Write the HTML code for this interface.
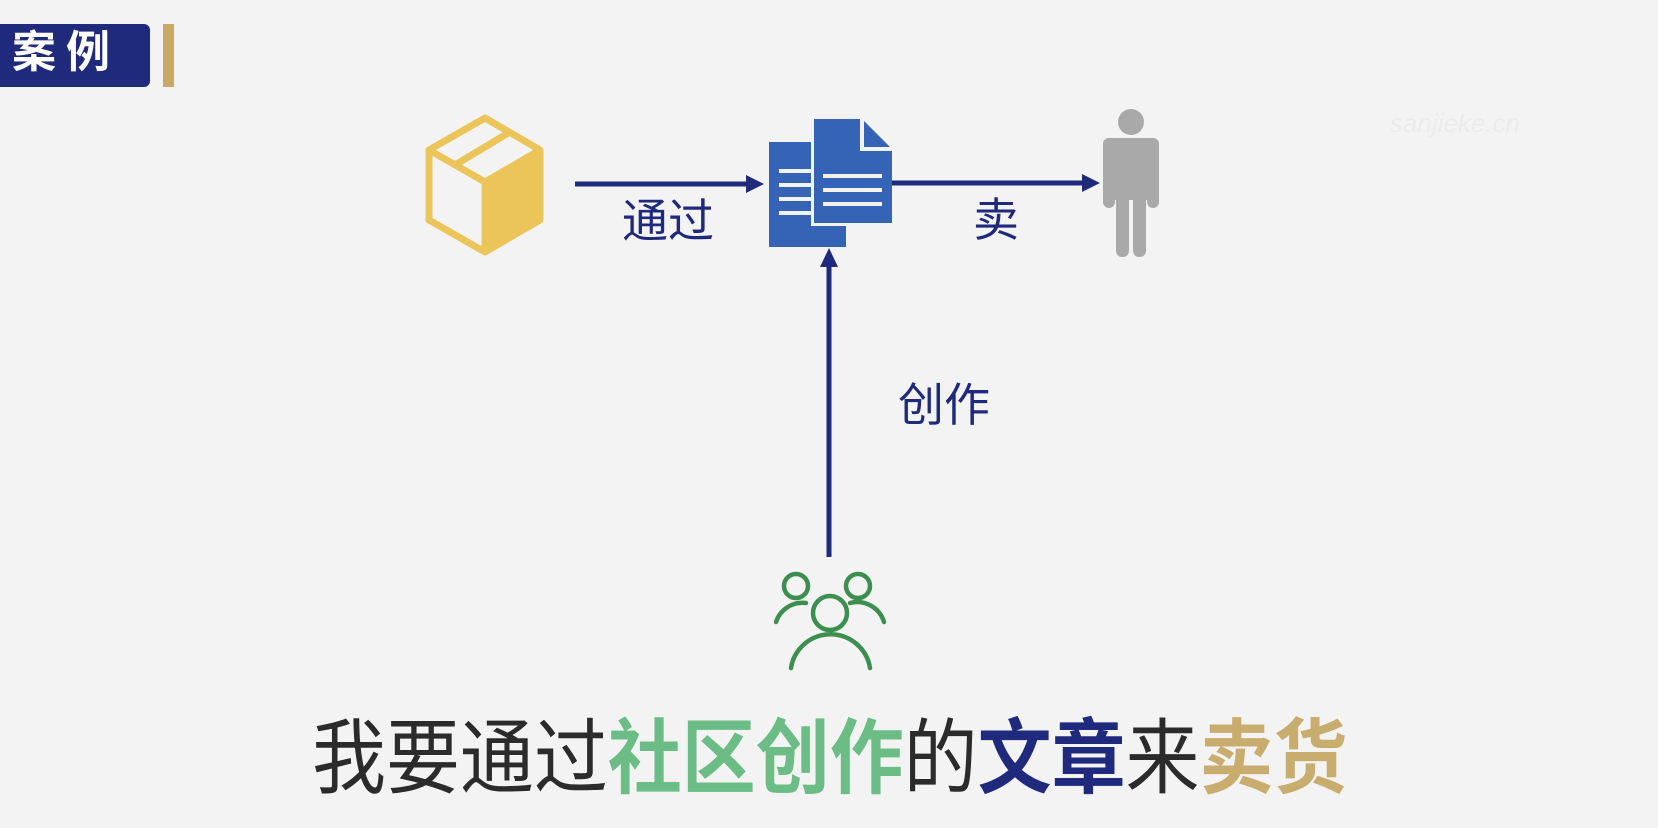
<!DOCTYPE html>
<html><head><meta charset="utf-8"><style>
html,body{margin:0;padding:0}
body{width:1658px;height:828px;background:#f3f3f3;position:relative;overflow:hidden;font-family:"Liberation Sans","Noto Sans CJK SC",sans-serif}
.t{position:absolute;white-space:nowrap;line-height:1}
</style></head><body>
<svg width="1658" height="828" style="position:absolute;left:0;top:0">
<rect x="-10" y="24" width="160" height="63" rx="6" fill="#1f2a7c"/>
<rect x="163" y="24" width="11" height="63" fill="#c8a968"/>
<g stroke="#ebc45a" stroke-width="7" stroke-linejoin="round" fill="none">
<polygon points="485,118 540,150 540,220 485,252 429,220 429,150"/>
<polyline points="429,150 485,182 540,150"/>
<line x1="485" y1="182" x2="485" y2="252"/>
<line x1="455" y1="165" x2="510" y2="132"/>
</g>
<polygon points="485,182 540,150 540,220 485,252" fill="#ebc45a"/>
<rect x="769" y="142" width="77" height="105" fill="#3563b6"/>
<g stroke="#f3f3f3" stroke-width="4"><line x1="779" y1="171" x2="812" y2="171"/><line x1="779" y1="185" x2="812" y2="185"/><line x1="779" y1="199" x2="812" y2="199"/><line x1="779" y1="213" x2="812" y2="213"/></g>
<polygon points="811,116 864,116 895,147 895,226 811,226" fill="#f3f3f3"/>
<polygon points="814,119 862,119 892,149 892,223 814,223" fill="#3563b6"/>
<polyline points="862,119 862,149 892,149" fill="none" stroke="#f3f3f3" stroke-width="4"/>
<g stroke="#f3f3f3" stroke-width="4"><line x1="823" y1="176" x2="882" y2="176"/><line x1="823" y1="190" x2="882" y2="190"/><line x1="823" y1="204" x2="882" y2="204"/></g>
<g stroke="#1f2a7c" stroke-width="5" fill="#1f2a7c">
<line x1="575" y1="184" x2="748" y2="184"/>
<line x1="892" y1="183" x2="1085" y2="183"/>
<line x1="829" y1="265" x2="829" y2="557"/>
</g>
<g fill="#1f2a7c">
<polygon points="764,184 746,175 746,193"/>
<polygon points="1100,183 1082,174 1082,192"/>
<polygon points="829,248 820,267 838,267"/>
</g>
<g fill="#a9a9a9">
<circle cx="1131" cy="122" r="13"/>
<rect x="1103" y="138" width="56" height="12" rx="6"/>
<rect x="1103" y="138" width="12" height="70" rx="6"/>
<rect x="1147" y="138" width="12" height="70" rx="6"/>
<rect x="1115" y="138" width="32" height="62"/>
<rect x="1116" y="190" width="13" height="67" rx="6"/>
<rect x="1133" y="190" width="13" height="67" rx="6"/>
</g>
<g stroke="#3d8f4f" stroke-width="4.5" fill="none" stroke-linecap="round">
<circle cx="796" cy="586" r="12"/>
<circle cx="858" cy="586" r="12"/>
<circle cx="830" cy="613" r="17"/>
<path d="M776,622 A28,28 0 0 1 806,603"/>
<path d="M884,622 A28,28 0 0 0 850,603"/>
<path d="M791,668 A40,40 0 0 1 870,668"/>
</g>
</svg>
<div class="t" style="left:12px;top:31px;font-size:44px;font-weight:bold;color:#fff;letter-spacing:10px">案例</div>
<div class="t" style="left:622px;top:198px;font-size:46px;color:#1f2a7c">通过</div>
<div class="t" style="left:973px;top:197px;font-size:46px;color:#1f2a7c">卖</div>
<div class="t" style="left:898px;top:382px;font-size:46px;color:#1f2a7c">创作</div>
<div class="t" style="left:1390px;top:110px;font-size:26px;font-style:italic;color:#ebebeb">sanjieke.cn</div>
<div class="t" style="left:312px;top:716px;font-size:86px;color:#2b2b2b;transform:scale(0.86,0.95);transform-origin:0 50%">我要通过<b style="color:#6cbc86">社区创作</b>的<b style="color:#1f2a7c">文章</b>来<b style="color:#c9ad6e">卖货</b></div>
</body></html>
